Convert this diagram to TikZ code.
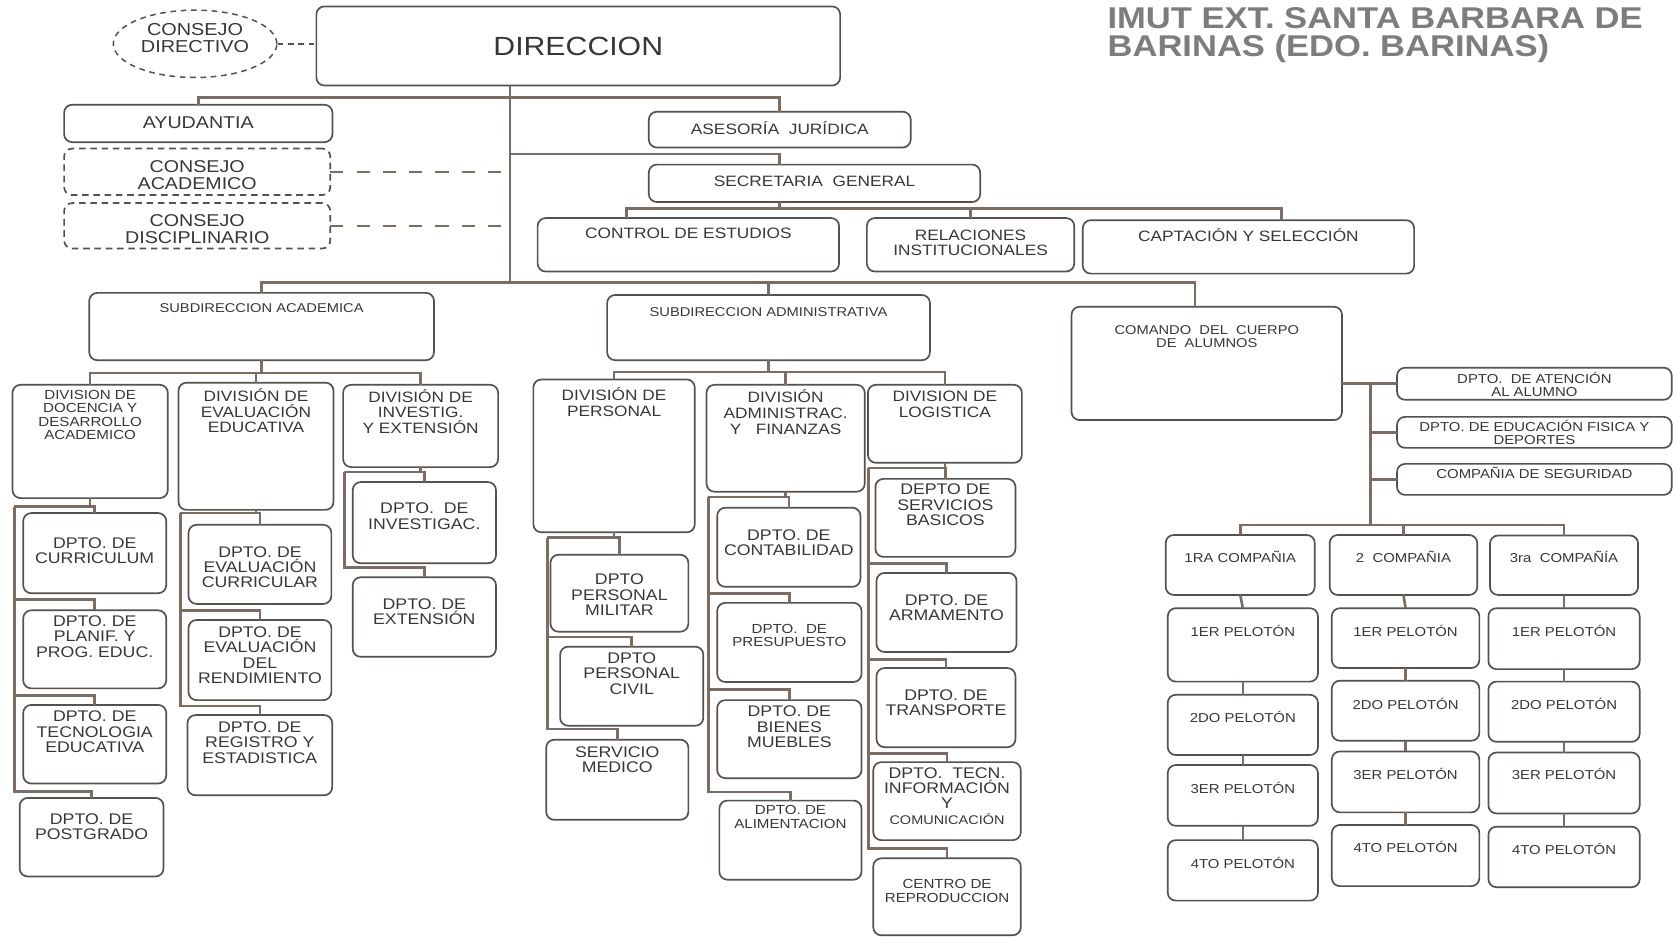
\documentclass[tikz,border=0pt]{standalone}
\usepackage{fontspec}
\setmainfont{Liberation Sans}[FakeStretch=1.15]
\usepackage{tikz}
\usetikzlibrary{shapes.geometric}
\usepackage{xcolor}
\definecolor{ink}{RGB}{55,55,55}
\definecolor{edge}{RGB}{85,81,79}
\definecolor{wire}{RGB}{125,108,98}
\definecolor{titlegray}{RGB}{125,125,125}

% box from (x1,y1) to (x2,y2), text centred at height ty
\newcommand{\ubox}[8][]{%
  \node[unit,#1,minimum width={(#5-#3)*0.2mm},minimum height={(#6-#4)*0.2mm}] (#2) at ({(#3+#5)/2},{(#4+#6)/2}) {};
  \node[txt,#1] (#2-t) at ({(#3+#5)/2},#7) {#8};}

\begin{document}
\begin{tikzpicture}[x=0.2mm,y=-0.2mm,
    every node/.style={text=ink},
    unit/.style={draw=edge,line width=0.9pt,rounded corners=1.5mm,inner sep=0pt,outer sep=0pt},
    txt/.style={align=center,inner sep=0pt},
    dbox/.style={dash pattern=on 3.5pt off 2.5pt},
    conn/.style={draw=wire,line width=1.4pt},
    dconn/.style={draw=wire,line width=1.1pt,dash pattern=on 7pt off 7pt},
    fdir/.style={font=\fontsize{14}{16}\selectfont},
    fcon/.style={font=\fontsize{9.1}{8.9}\selectfont},
    fone/.style={font=\fontsize{8}{8.2}\selectfont},
    fsub/.style={font=\fontsize{6.8}{6.9}\selectfont},
    fdoc/.style={font=\fontsize{7}{7.1}\selectfont},
    fdiv/.style={font=\fontsize{8}{8.4}\selectfont},
    fdep/.style={font=\fontsize{8.2}{8.2}\selectfont},
    fsm/.style={font=\fontsize{7}{7.1}\selectfont},
    fpel/.style={font=\fontsize{6.9}{6.8}\selectfont},
  ]
  \useasboundingbox (0,0) rectangle (1568,877);

  % top
  \node[ellipse,draw=edge,line width=0.8pt,dash pattern=on 3pt off 2.5pt,minimum width=30.6mm,minimum height=12.6mm,inner sep=0pt] (cdir) at (182.5,41) {};
  \node[txt,font=\fontsize{9.2}{9.2}\selectfont] (cdir-t) at (182.5,35.5) {CONSEJO\\DIRECTIVO};
  \ubox[fdir]{dir}{296}{6}{786}{80}{43}{DIRECCION}
  \node[anchor=west,align=left,text=titlegray,font=\fontsize{16}{15}\selectfont\bfseries] (title) at (1030,32.5) {IMUT EXT. SANTA BARBARA DE\\BARINAS (EDO. BARINAS)};

  \ubox[fcon]{ayu}{60}{98}{311}{133}{114.8}{AYUDANTIA}
  \ubox[fcon,dbox]{cacad}{60}{139}{309}{182.5}{163.8}{CONSEJO\\ACADEMICO}
  \ubox[fcon,dbox]{cdis}{60}{190}{309}{232.5}{214.3}{CONSEJO\\DISCIPLINARIO}
  \ubox[fone]{ases}{607}{104.5}{852}{138}{119.4}{ASESORÍA~~JURÍDICA}
  \ubox[fone]{sec}{607}{154}{917}{189}{169.3}{SECRETARIA~~GENERAL}
  \ubox[fone]{ctrl}{503}{204}{785}{254}{218}{CONTROL DE ESTUDIOS}
  \ubox[fone]{rel}{811}{204}{1005}{254}{227}{RELACIONES\\INSTITUCIONALES}
  \ubox[fone]{capt}{1013}{206}{1323}{256}{220}{CAPTACIÓN Y SELECCIÓN}

  % subdirecciones
  \ubox[fsub]{sacad}{83.5}{274}{406}{337}{288.5}{SUBDIRECCION ACADEMICA}
  \ubox[fsub]{sadm}{568}{276}{870}{337}{291.6}{SUBDIRECCION ADMINISTRATIVA}
  \ubox[fsub]{coma}{1002.5}{287}{1255.5}{393}{315}{COMANDO~~DEL~~CUERPO\\DE~~ALUMNOS}

  % academica
  \ubox[fdoc]{doc}{11.7}{360}{157}{466}{388.3}{DIVISION DE\\DOCENCIA Y\\DESARROLLO\\ACADEMICO}
  \ubox[fdiv]{eva}{167}{358}{312}{477}{384.3}{DIVISIÓN DE\\EVALUACIÓN\\EDUCATIVA}
  \ubox[fdiv]{inv}{321}{360}{466}{437}{385}{DIVISIÓN DE\\INVESTIG.\\Y EXTENSIÓN}
  \ubox[fdep]{cur}{21.7}{480}{155.5}{555}{515}{DPTO. DE\\CURRICULUM}
  \ubox[fdep]{pla}{21.7}{571}{155.5}{644}{595.6}{DPTO. DE\\PLANIF. Y\\PROG. EDUC.}
  \ubox[fdep]{tec}{21.7}{659.5}{155.5}{733}{684.7}{DPTO. DE\\TECNOLOGIA\\EDUCATIVA}
  \ubox[fdep]{pos}{18.4}{746.5}{153}{820}{773.5}{DPTO. DE\\POSTGRADO}
  \ubox[fdep]{ecu}{176.4}{491}{310}{565}{530.6}{DPTO. DE\\EVALUACIÓN\\CURRICULAR}
  \ubox[fdep]{ren}{176.4}{580}{310}{655}{612.8}{DPTO. DE\\EVALUACIÓN\\DEL\\RENDIMIENTO}
  \ubox[fdep]{reg}{175.4}{669}{310.8}{744}{694.5}{DPTO. DE\\REGISTRO Y\\ESTADISTICA}
  \ubox[fdep]{iga}{330}{451}{464}{527}{482.8}{DPTO.~~DE\\INVESTIGAC.}
  \ubox[fdep]{ext}{330}{540}{464}{614.5}{572}{DPTO. DE\\EXTENSIÓN}

  % administrativa
  \ubox[fdiv]{per}{499}{355}{650}{498}{376.5}{DIVISIÓN DE\\PERSONAL}
  \ubox[fdiv]{fin}{661}{360}{809}{460}{385.5}{DIVISIÓN\\ADMINISTRAC.\\Y~~~FINANZAS}
  \ubox[fdiv]{log}{812}{360}{956}{433}{378}{DIVISION DE\\LOGISTICA}
  \ubox[fdep]{mil}{515}{519}{644}{591}{556.6}{DPTO\\PERSONAL\\MILITAR}
  \ubox[fdep]{civ}{524}{605}{658}{679}{630.2}{DPTO\\PERSONAL\\CIVIL}
  \ubox[fdep]{med}{511}{692}{644}{767}{711}{SERVICIO\\MEDICO}
  \ubox[fdep]{con}{671}{475}{805}{549}{507.8}{DPTO. DE\\CONTABILIDAD}
  \ubox[fsm]{pre}{671}{564}{806}{638}{594.3}{DPTO.~~DE\\PRESUPUESTO}
  \ubox[fdep]{bie}{671}{655}{806}{728}{680}{DPTO. DE\\BIENES\\MUEBLES}
  \ubox[fsm]{ali}{673}{749}{806}{823}{764.4}{DPTO. DE\\ALIMENTACION}
  \ubox[fdep]{ser}{819}{448}{950}{521}{472.4}{DEPTO DE\\SERVICIOS\\BASICOS}
  \ubox[fdep]{arm}{820}{536}{951}{610}{568.7}{DPTO. DE\\ARMAMENTO}
  \ubox[fdep]{tra}{820}{625}{950}{699}{657.5}{DPTO. DE\\TRANSPORTE}
  \ubox[fdep]{tic}{817}{713}{955}{786}{744.5}{DPTO.~~TECN.\\INFORMACIÓN\\Y\\{\fontsize{6.7}{8}\selectfont COMUNICACIÓN}}
  \ubox[fsm]{rep}{817}{803}{955}{875}{833.7}{CENTRO DE\\REPRODUCCION}

  % cuerpo de alumnos
  \ubox[fpel]{ate}{1307}{344}{1564}{374}{360}{DPTO.~~DE ATENCIÓN\\AL ALUMNO}
  \ubox[fpel]{edf}{1307}{390}{1564}{419}{404.5}{DPTO. DE EDUCACIÓN FISICA Y\\DEPORTES}
  \ubox[fpel]{seg}{1307}{434}{1564}{463}{442.5}{COMPAÑIA DE SEGURIDAD}
  \ubox[fpel]{c1}{1090.6}{500.5}{1230}{556.6}{521}{1RA COMPAÑIA}
  \ubox[fpel]{c2}{1244}{500.5}{1382}{556.6}{521}{2~~COMPAÑIA}
  \ubox[fpel]{c3}{1394}{501}{1532.5}{556.6}{521}{3ra~~COMPAÑÍA}
  \ubox[fpel]{p11}{1092.5}{569}{1233}{637.7}{590}{1ER PELOTÓN}
  \ubox[fpel]{p12}{1092.5}{650}{1233}{706.4}{671}{2DO PELOTÓN}
  \ubox[fpel]{p13}{1092.5}{715.7}{1233}{772.6}{737}{3ER PELOTÓN}
  \ubox[fpel]{p14}{1092.5}{786}{1233}{842.6}{807}{4TO PELOTÓN}
  \ubox[fpel]{p21}{1246}{569}{1384}{625}{590}{1ER PELOTÓN}
  \ubox[fpel]{p22}{1246}{636.8}{1384}{693}{658.6}{2DO PELOTÓN}
  \ubox[fpel]{p23}{1246}{703}{1384}{760}{724}{3ER PELOTÓN}
  \ubox[fpel]{p24}{1246}{771.8}{1384}{829}{792.7}{4TO PELOTÓN}
  \ubox[fpel]{p31}{1392.5}{569}{1534}{626}{590}{1ER PELOTÓN}
  \ubox[fpel]{p32}{1392.5}{637.7}{1534}{694}{658.6}{2DO PELOTÓN}
  \ubox[fpel]{p33}{1392.5}{704}{1534}{761}{724}{3ER PELOTÓN}
  \ubox[fpel]{p34}{1392.5}{773.4}{1534}{830}{794}{4TO PELOTÓN}

  % connectors
  \coordinate (trunk) at (477,264);
  \coordinate (btop) at (477,91.5);
  \coordinate (bsec) at (477,144);
  \draw[conn] (dir.south -| trunk) -- (trunk);
  \draw[conn] (ayu.north) |- (btop) -| (ases.north);
  \draw[conn] (bsec) -| (sec.north -| ases.north);
  \path (sec.south -| ases.north) ++(0,6) coordinate (bsg);
  \draw[conn] (sec.south -| ases.north) -- (bsg);
  \draw[conn] ([xshift=-11.6mm]ctrl.north) |- (bsg) -| ([xshift=6.2mm]capt.north);
  \draw[conn] (rel.north) -- (rel.north |- bsg);
  \draw[dconn] (cacad.east) -- (cacad.east -| trunk);
  \draw[dconn] (cdis.east) -- (cdis.east -| trunk);
  \draw[draw=edge,line width=0.8pt,dash pattern=on 3pt off 2.5pt] (cdir.east) -- (cdir.east -| dir.west);

  \draw[conn] (sacad.north) |- (trunk) -| ([xshift=-2.2mm]coma.north);
  \draw[conn] (sadm.north) -- (sadm.north |- trunk);

  \path (sacad.south) ++(0,12) coordinate (bacad);
  \draw[conn] (sacad.south) -- (bacad);
  \draw[conn] (doc.north) |- (bacad) -| (inv.north);
  \draw[conn] (eva.north) -- (eva.north |- bacad);

  \path (sadm.south) ++(0,11) coordinate (badm);
  \draw[conn] (sadm.south) -- (badm);
  \draw[conn] (per.north) |- (badm) -| (log.north);
  \draw[conn] (fin.north) -- (fin.north |- badm);

  % department rails
  \coordinate (rdoc) at (13.4,474);
  \coordinate (reva) at (168.7,480);
  \coordinate (rinv) at (322.4,441.5);
  \coordinate (rper) at (512,503);
  \coordinate (rfin) at (662.7,465);
  \coordinate (rlog) at (812.4,438);
  \draw[conn] (doc.south) |- (rdoc);
  \draw[conn] (eva.south) |- (reva);
  \draw[conn] (inv.south) |- (rinv);
  \draw[conn] (per.south) |- (rper);
  \draw[conn] (fin.south) |- (rfin);
  \draw[conn] (log.south) |- (rlog);
  \foreach \d/\o in {cur/6,pla/10,tec/9,pos/6}
    \draw[conn] (\d.north) -- ++(0,-\o) -| (rdoc);
  \foreach \d/\o in {ecu/11,ren/9,reg/8.5}
    \draw[conn] (\d.north) -- ++(0,-\o) -| (reva);
  \foreach \d/\o in {iga/9.5,ext/9}
    \draw[conn] (\d.north) -- ++(0,-\o) -| (rinv);
  \foreach \d/\o in {mil/16,civ/9,med/10}
    \draw[conn] (\d.north) -- ++(0,-\o) -| (rper);
  \foreach \d/\o in {con/10,pre/9,bie/10,ali/8}
    \draw[conn] (\d.north) -- ++(0,-\o) -| (rfin);
  \foreach \d/\o in {ser/10,arm/9,tra/8,tic/8,rep/9}
    \draw[conn] (\d.north) -- ++(0,-\o) -| (rlog);

  % cuerpo de alumnos
  \coordinate (vcom) at (1282,491);
  \draw[conn] (ate.west) -- (ate.west -| coma.east);
  \draw[conn] (ate.west -| vcom) -- (vcom);
  \draw[conn] (edf.west) -- (edf.west -| vcom);
  \draw[conn] (seg.west) -- (seg.west -| vcom);
  \draw[conn] (c1.north) |- (vcom) -| (c3.north);
  \draw[conn] (c2.north) -- (c2.north |- vcom);
  \foreach \c in {1,2,3} {
    \draw[conn] (c\c.south) -- (p\c1.north);
    \foreach \a/\b in {1/2,2/3,3/4}
      \draw[conn] (p\c\a.south) -- (p\c\b.north);
  }
\end{tikzpicture}
\end{document}
